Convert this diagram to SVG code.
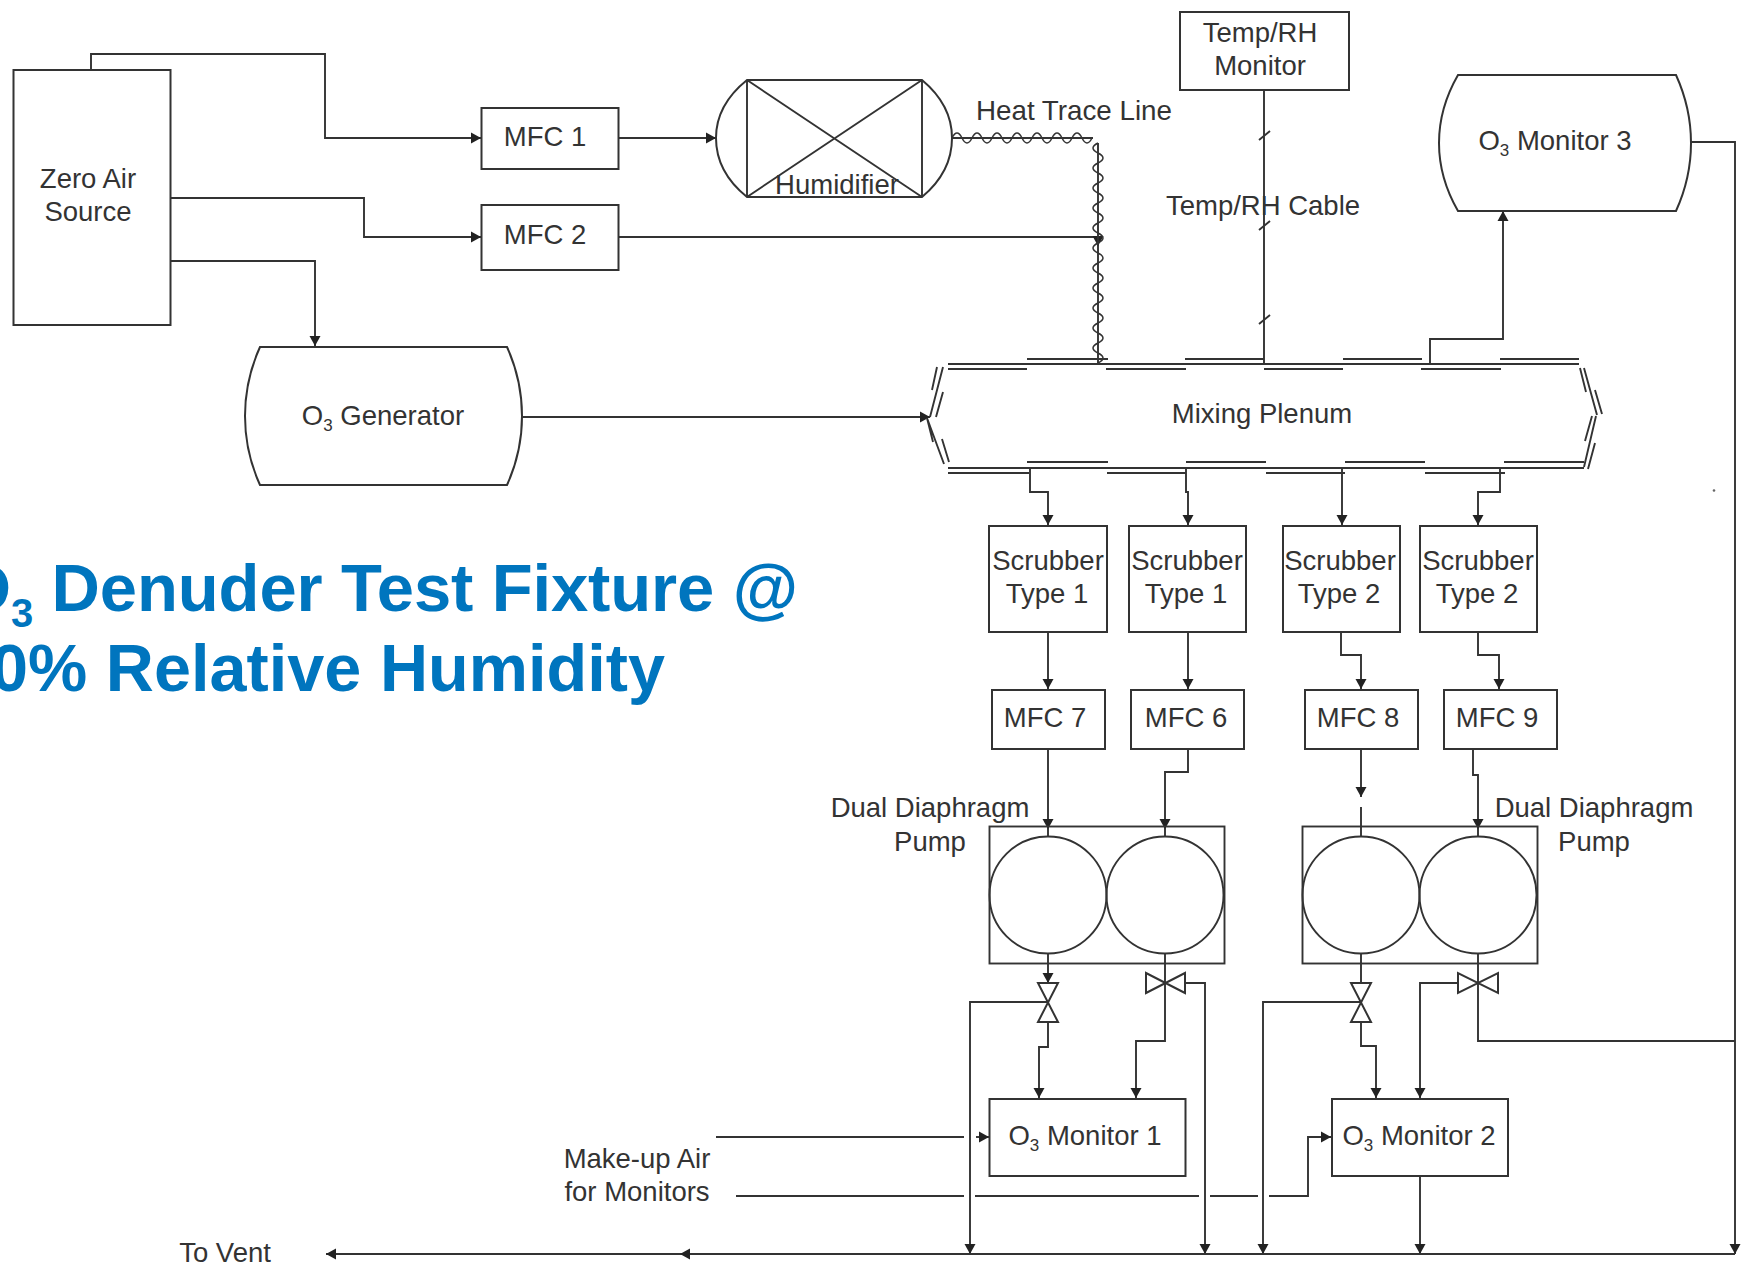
<svg xmlns="http://www.w3.org/2000/svg" width="1748" height="1267" viewBox="0 0 1748 1267">
<style>
text{font-family:"Liberation Sans",Arial,sans-serif;font-size:27.5px;fill:#333;text-anchor:middle}
.title{font-size:67px;font-weight:bold;fill:#0075BE;text-anchor:start}
.sub{font-size:17px}
.s{fill:#fff;stroke:#333;stroke-width:2}
.l,.w{fill:none;stroke:#333;stroke-width:1.9}
.w{stroke-width:1.5}
.a{marker-end:url(#arrow)}
</style>
<defs>
<marker id="arrow" markerUnits="userSpaceOnUse" markerWidth="11" markerHeight="12" refX="10" refY="6" orient="auto"><path d="M0 0.5L10 6L0 11.5z" fill="#222"/></marker>
</defs>
<rect width="1748" height="1267" fill="#fff"/>

<g id="connectors">
<path class="l a" d="M91 70V54H325V138H481"/>
<path class="l a" d="M170 198H364V237H481"/>
<path class="l a" d="M170 261H315V346"/>
<path class="l a" d="M618 138H716"/>
<path class="l a" d="M522 417H930"/>
<path class="l a" d="M618 237H1098V246"/>
<path class="l" d="M952 138H1093M1098 143V364"/>
<path class="w" d="M952 138q5 -10 10 0t10 0t10 0t10 0t10 0t10 0t10 0t10 0t10 0t10 0t10 0t10 0t10 0t10 0"/>
<path class="w" d="M1098 143q-10 5 0 10t0 10t0 10t0 10t0 10t0 10t0 10t0 10t0 10t0 10t0 10t0 10t0 10t0 10t0 10t0 10t0 10t0 10t0 10t0 10t0 10t0 10"/>
<path class="l" d="M1264 90V364M1259 140L1270 131M1259 230L1270 221M1259 324L1270 315"/>
<path class="l a" d="M1430 364V339H1503V211"/>
<path class="l" d="M1691 142H1735V1041M1478 953V1041H1735"/>
<path class="l a" d="M1735 1041V1254"/>
<path class="l a" d="M1030 468V492H1048V525"/>
<path class="l a" d="M1186 468V492H1188V525"/>
<path class="l a" d="M1342 468V525"/>
<path class="l a" d="M1500 468V492H1478V525"/>
<path class="l a" d="M1048 632V689"/>
<path class="l a" d="M1188 632V689"/>
<path class="l a" d="M1341 632V655H1361V689"/>
<path class="l a" d="M1478 632V655H1499V689"/>
<path class="l a" d="M1048 749V829"/>
<path class="l a" d="M1188 749V772H1165V829"/>
<path class="l a" d="M1361 749V797"/>
<path class="l a" d="M1473 749V775H1478V829"/>
<path class="l" d="M1048 829V837M1165 829V837M1361 807V837M1478 829V837"/>
<path class="l a" d="M1048 953V983"/>
<path class="l" d="M1165 953V983M1361 953V983"/>
<path class="l a" d="M1048 1002H970V1254"/>
<path class="l a" d="M1048 1022V1047H1039V1098"/>
<path class="l a" d="M1165 983V1041H1136V1098"/>
<path class="l a" d="M1185 983H1205V1254"/>
<path class="l a" d="M1361 1002H1263V1254"/>
<path class="l a" d="M1361 1022V1046H1376V1098"/>
<path class="l a" d="M1458 983H1420V1098"/>
<path class="l a" d="M1420 1176V1254"/>
<path class="l" d="M716 1137H964"/>
<path class="l a" d="M976 1137H989"/>
<path class="l" d="M736 1196H964M975 1196H1199M1210 1196H1258"/>
<path class="l a" d="M1269 1196H1308V1137H1331"/>
<path class="l a" d="M1735 1254H326"/>
<path class="l a" d="M700 1254H680"/>
</g>

<g id="zero-air-source"><rect class="s" x="13.5" y="70" width="157" height="255"/><text x="88" y="188">Zero Air</text><text x="88" y="221">Source</text></g>
<g id="mfc-1"><rect class="s" x="481.5" y="108" width="137" height="61"/><text x="545" y="146">MFC 1</text></g>
<g id="mfc-2"><rect class="s" x="481.5" y="205" width="137" height="65"/><text x="545" y="244">MFC 2</text></g>
<g id="humidifier"><path class="s" d="M747 80H922Q952 105 952 138Q952 172 922 197H747Q716 172 716 138Q716 105 747 80Z"/><path class="l" d="M747 80V197M922 80V197M747 80L922 197M922 80L747 197"/><text x="837" y="194">Humidifier</text></g>
<g id="o3-generator"><path class="s" d="M260 347H507Q522 380 522 416Q522 452 507 485H260Q245 452 245 416Q245 380 260 347Z"/><text x="383" y="425">O<tspan class="sub" dy="6">3</tspan><tspan dy="-6"> Generator</tspan></text></g>
<g id="temp-rh-monitor"><rect class="s" x="1180" y="12" width="169" height="78"/><text x="1260" y="42">Temp/RH</text><text x="1260" y="75">Monitor</text></g>
<g id="o3-monitor-3"><path class="s" d="M1458 75H1676Q1691 108 1691 143Q1691 178 1676 211H1458Q1439 178 1439 143Q1439 108 1458 75Z"/><text x="1555" y="150">O<tspan class="sub" dy="6">3</tspan><tspan dy="-6"> Monitor 3</tspan></text></g>
<g id="mixing-plenum">
<path class="l" d="M948 364H1579M1027 359H1108M1185 359H1264M1343 359H1422M1500 359H1579M948 369H1027M1106 369H1186M1264 369H1343M1421 369H1501"/>
<path class="l" d="M948 468H1584M1027 462H1108M1186 462H1266M1345 462H1425M1504 462H1584M948 473H1029M1107 473H1186M1266 473H1345M1425 473H1505"/>
<path class="l" d="M937 367L932 390M943 367L930 417M943 392L936 417M927 418L944 464M927 418L933 442M942 439L949 462"/>
<path class="l" d="M1580 368L1586 392M1584 368L1597 415M1595 390L1602 414M1592 416L1585 441M1596 416L1584 467M1595 443L1588 469"/>
<text x="1262" y="423">Mixing Plenum</text>
</g>
<g id="scrubber-1"><rect class="s" x="989" y="526" width="118" height="106"/><text x="1048" y="570">Scrubber</text><text x="1047" y="603">Type 1</text></g>
<g id="scrubber-2"><rect class="s" x="1129" y="526" width="117" height="106"/><text x="1187" y="570">Scrubber</text><text x="1186" y="603">Type 1</text></g>
<g id="scrubber-3"><rect class="s" x="1283" y="526" width="117" height="106"/><text x="1340" y="570">Scrubber</text><text x="1339" y="603">Type 2</text></g>
<g id="scrubber-4"><rect class="s" x="1420" y="526" width="117" height="106"/><text x="1478" y="570">Scrubber</text><text x="1477" y="603">Type 2</text></g>
<g id="mfc-7"><rect class="s" x="992" y="690" width="113" height="59"/><text x="1045" y="727">MFC 7</text></g>
<g id="mfc-6"><rect class="s" x="1131" y="690" width="113" height="59"/><text x="1186" y="727">MFC 6</text></g>
<g id="mfc-8"><rect class="s" x="1305" y="690" width="113" height="59"/><text x="1358" y="727">MFC 8</text></g>
<g id="mfc-9"><rect class="s" x="1444" y="690" width="113" height="59"/><text x="1497" y="727">MFC 9</text></g>
<g id="pump-left"><rect class="l" x="989.5" y="826.5" width="235" height="137"/><circle class="l" cx="1048" cy="895" r="58.5"/><circle class="l" cx="1165" cy="895" r="58.5"/></g>
<g id="pump-right"><rect class="l" x="1302.5" y="826.5" width="235" height="137"/><circle class="l" cx="1361" cy="895" r="58.5"/><circle class="l" cx="1478" cy="895" r="58.5"/></g>
<g id="valve-1"><path class="s" d="M1038 983H1058L1038 1022H1058Z"/></g>
<g id="valve-2"><path class="s" d="M1146 973V993L1185 973V993Z"/></g>
<g id="valve-3"><path class="s" d="M1351 983H1371L1351 1022H1371Z"/></g>
<g id="valve-4"><path class="s" d="M1458 973V993L1498 973V993Z"/></g>
<g id="o3-monitor-1"><rect class="s" x="989.5" y="1099" width="196" height="77"/><text x="1085" y="1145">O<tspan class="sub" dy="6">3</tspan><tspan dy="-6"> Monitor 1</tspan></text></g>
<g id="o3-monitor-2"><rect class="s" x="1332" y="1099" width="176" height="77"/><text x="1419" y="1145">O<tspan class="sub" dy="6">3</tspan><tspan dy="-6"> Monitor 2</tspan></text></g>

<circle cx="1714" cy="490.500" r="1.300" fill="#666"/>
<g id="labels">
<text x="1074" y="120" textLength="196" lengthAdjust="spacingAndGlyphs">Heat Trace Line</text>
<text x="1263" y="215">Temp/RH Cable</text>
<text x="930" y="817">Dual Diaphragm</text><text x="930" y="851">Pump</text>
<text x="1594" y="817">Dual Diaphragm</text><text x="1594" y="851">Pump</text>
<text x="637" y="1168">Make-up Air</text><text x="637" y="1201">for Monitors</text>
<text x="225" y="1262">To Vent</text>
<text class="title" x="-41" y="611" textLength="839" lengthAdjust="spacing">O<tspan font-size="40" dy="16">3</tspan><tspan dy="-16"> Denuder Test Fixture @</tspan></text>
<text class="title" x="-9" y="691" textLength="674" lengthAdjust="spacingAndGlyphs">0% Relative Humidity</text>
</g>
</svg>
